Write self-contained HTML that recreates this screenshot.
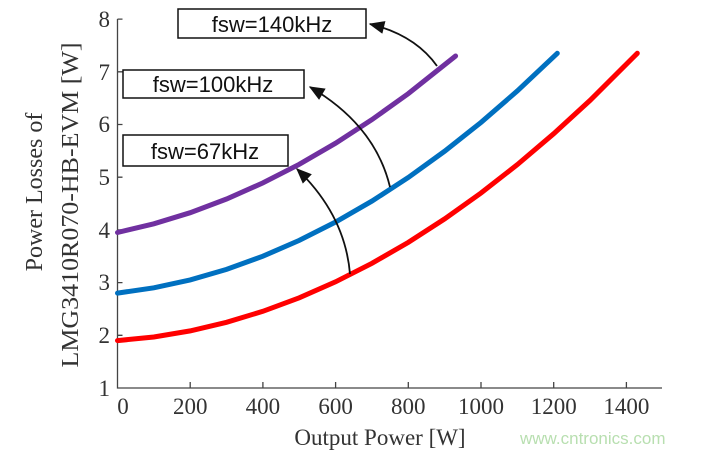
<!DOCTYPE html>
<html><head><meta charset="utf-8"><style>
html,body{margin:0;padding:0;background:#fff;width:705px;height:454px;overflow:hidden}
svg{display:block}
.s{font-family:"Liberation Serif",serif;fill:#333}
.b{font-family:"Liberation Sans",sans-serif;font-size:22px;fill:#111}
</style></head><body>
<svg width="705" height="454" viewBox="0 0 705 454" xmlns="http://www.w3.org/2000/svg">
<defs>
<marker id="a" viewBox="0 0 12 10" refX="11" refY="5" markerWidth="16" markerHeight="13" orient="auto" markerUnits="userSpaceOnUse"><path d="M0,0 L12,5 L0,10 z" fill="#111"/></marker></defs>
<g stroke="#444" stroke-width="1.3" fill="none">
<path d="M117.5,19 V388 H662"/>
<path d="M117.5,19.1h5M117.5,71.8h5M117.5,124.5h5M117.5,177.2h5M117.5,229.9h5M117.5,282.6h5M117.5,335.3h5M190.2,388v-6M262.9,388v-6M335.6,388v-6M408.3,388v-6M481,388v-6M553.7,388v-6M626.4,388v-6"/>
</g>
<g fill="none" stroke-width="5" stroke-linecap="round">
<path stroke="#ff0000" d="M117.5,340.6L153.85,337L190.2,330.9L226.55,322.3L262.9,311.3L299.25,297.8L335.6,281.8L371.95,263.3L408.3,242.4L444.65,218.9L481,193L517.35,164.6L553.7,133.7L590.05,100.4L637.3,53.3"/>
<path stroke="#0070c0" d="M117.5,293.1L153.85,287.8L190.2,279.9L226.55,269.4L262.9,256.2L299.25,240.4L335.6,222L371.95,201.1L408.3,177.5L444.65,151.2L481,122.4L517.35,90.9L557.3,53.3"/>
<path stroke="#7030a0" d="M117.5,232.5L153.85,223.8L190.2,212.7L226.55,199L262.9,182.9L299.25,164.3L335.6,143.2L371.95,119.6L408.3,93.6L455.6,56"/>
</g>
<g class="s" font-size="23" text-anchor="end">
<text x="110" y="27">8</text><text x="110" y="80">7</text><text x="110" y="132">6</text><text x="110" y="185">5</text><text x="110" y="238">4</text><text x="110" y="290">3</text><text x="110" y="343">2</text><text x="110" y="396">1</text>
</g>
<g class="s" font-size="23" text-anchor="middle">
<text x="123" y="414">0</text><text x="190.2" y="414">200</text><text x="262.9" y="414">400</text><text x="335.6" y="414">600</text><text x="408.3" y="414">800</text><text x="481" y="414">1000</text><text x="553.7" y="414">1200</text><text x="626.4" y="414">1400</text>
</g>
<text class="s" font-size="24" text-anchor="middle" transform="translate(42,192) rotate(-90)">Power Losses of</text>
<text class="s" font-size="24" text-anchor="middle" textLength="325" lengthAdjust="spacingAndGlyphs" transform="translate(78,205) rotate(-90)">LMG3410R070-HB-EVM [W]</text>
<text class="s" font-size="23" x="380" y="445" text-anchor="middle">Output Power [W]</text>
<text x="520" y="444" font-family="Liberation Sans,sans-serif" font-size="17" fill="#b8dfb0">www.cntronics.com</text>
<g stroke="#111" stroke-width="1.8" fill="none">
<path d="M437,66 Q415,35 370,24" marker-end="url(#a)"/>
<path d="M390,187 Q375,125 310,87" marker-end="url(#a)"/>
<path d="M350,274 Q345,215 297,169" marker-end="url(#a)"/>
</g>
<g fill="#fff" stroke="#111" stroke-width="1.5">
<rect x="178" y="9" width="188" height="29"/>
<rect x="123" y="70" width="181" height="28"/>
<rect x="123" y="135" width="165" height="31"/>
</g>
<text class="b" x="272" y="32" text-anchor="middle">fsw=140kHz</text>
<text class="b" x="213" y="92" text-anchor="middle">fsw=100kHz</text>
<text class="b" x="205" y="159" text-anchor="middle">fsw=67kHz</text>
</svg>
</body></html>
